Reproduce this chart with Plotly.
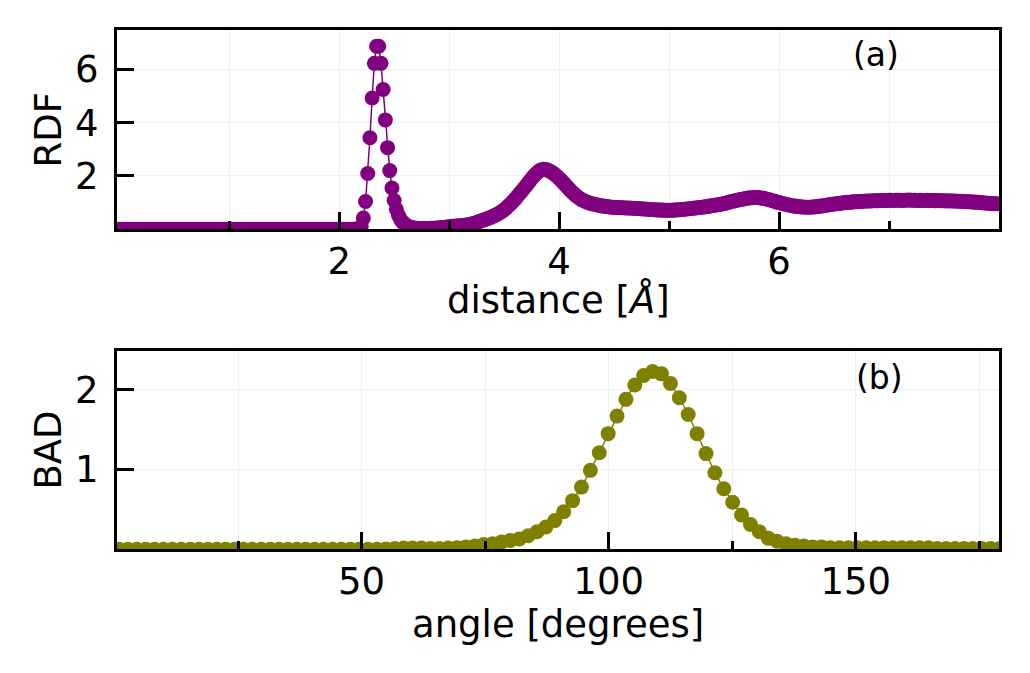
import plotly.graph_objects as go

# ---------------- data ----------------
# RDF sampled every rdf_dr Angstrom starting at 0
rdf_dr = 0.02
rdf_values = [
    0, 0, 0, 0, 0, 0, 0, 0, 0, 0,
    0, 0, 0, 0, 0, 0, 0, 0, 0, 0,
    0, 0, 0, 0, 0, 0, 0, 0, 0, 0,
    0, 0, 0, 0, 0, 0, 0, 0, 0, 0,
    0, 0, 0, 0, 0, 0, 0, 0, 0, 0,
    0, 0, 0, 0, 0, 0, 0, 0, 0, 0,
    0, 0, 0, 0, 0, 0, 0, 0, 0, 0,
    0, 0, 0, 0, 0, 0, 0, 0, 0, 0,
    0, 0, 0, 0, 0, 0, 0, 0, 0, 0,
    0, 0, 0, 0, 0, 0, 0, 0, 0, 0,
    0, 0, 0, 0, 0, 0, 0, 0, 0, 0,
    0.10,
    0.42, 1.04, 2.09, 3.43, 4.92, 6.22, 6.86, 6.86, 6.22, 5.24, 4.10, 3.06, 2.20, 1.55,
    1.08, 0.75, 0.52, 0.36, 0.25, 0.18, 0.13, 0.09, 0.07, 0.05,
    0.04, 0.03, 0.03, 0.03, 0.03, 0.03, 0.03, 0.04, 0.04, 0.05,
    0.05, 0.06, 0.07, 0.08, 0.09, 0.10, 0.11, 0.11, 0.12, 0.12,
    0.13, 0.14, 0.15, 0.16, 0.18, 0.20, 0.22, 0.24, 0.27, 0.30,
    0.33, 0.36, 0.39, 0.42, 0.45, 0.49, 0.53, 0.57, 0.62, 0.67,
    0.73, 0.80, 0.88, 0.96, 1.04, 1.13, 1.23, 1.33, 1.43, 1.53,
    1.63, 1.74, 1.85, 1.95, 2.04, 2.12, 2.19, 2.23, 2.25, 2.24,
    2.21, 2.17, 2.12, 2.06, 1.99, 1.91, 1.83, 1.74, 1.65, 1.56,
    1.47, 1.39, 1.31, 1.24, 1.18, 1.12, 1.08, 1.04, 1.01, 0.98,
    0.96, 0.94, 0.92, 0.90, 0.88, 0.87, 0.86, 0.85, 0.84, 0.83,
    0.83, 0.82, 0.82, 0.81, 0.81, 0.80, 0.80, 0.80, 0.79, 0.79,
    0.78, 0.78, 0.77, 0.76, 0.76, 0.75, 0.74, 0.74, 0.73, 0.73,
    0.72, 0.72, 0.72, 0.71, 0.71, 0.71, 0.71, 0.72, 0.72, 0.73,
    0.73, 0.74, 0.75, 0.76, 0.77, 0.78, 0.79, 0.80, 0.81, 0.82,
    0.83, 0.84, 0.85, 0.86, 0.88, 0.89, 0.90, 0.92, 0.93, 0.95,
    0.97, 0.99, 1.01, 1.03, 1.05, 1.07, 1.09, 1.11, 1.13, 1.14,
    1.16, 1.17, 1.18, 1.18, 1.19, 1.19, 1.18, 1.17, 1.16, 1.14,
    1.12, 1.10, 1.07, 1.05, 1.02, 1.00, 0.98, 0.96, 0.94, 0.92,
    0.90, 0.88, 0.87, 0.86, 0.85, 0.84, 0.84, 0.83, 0.83, 0.83,
    0.84, 0.84, 0.85, 0.86, 0.87, 0.88, 0.89, 0.91, 0.92, 0.94,
    0.95, 0.96, 0.97, 0.98, 0.99, 1.00, 1.01, 1.01, 1.02, 1.03,
    1.03, 1.04, 1.04, 1.05, 1.05, 1.06, 1.06, 1.06, 1.07, 1.07,
    1.07, 1.08, 1.08, 1.08, 1.08, 1.09, 1.09, 1.08, 1.09, 1.09,
    1.09, 1.08, 1.09, 1.09, 1.10, 1.09, 1.09, 1.09, 1.08, 1.09,
    1.08, 1.08, 1.09, 1.08, 1.08, 1.08, 1.07, 1.08, 1.07, 1.07,
    1.07, 1.06, 1.07, 1.06, 1.06, 1.06, 1.05, 1.05, 1.05, 1.04,
    1.04, 1.03, 1.03, 1.02, 1.02, 1.01, 1.01, 1.00, 0.99, 0.99,
    0.98, 0.97, 0.97, 0.96, 0.96,
]

# BAD sampled at bin centres, bad_start + k * bad_step degrees
bad_start = 0.9
bad_step = 1.8
bad_values = [
    0, 0, 0, 0, 0, 0, 0, 0, 0, 0,
    0, 0, 0, 0, 0, 0, 0, 0, 0, 0,
    0, 0, 0, 0, 0, 0, 0, 0, 0, 0,
    0.005, 0.01, 0.015, 0.015, 0.015, 0.01, 0.01, 0.015, 0.02, 0.03,
    0.04, 0.06, 0.07, 0.09, 0.11, 0.13, 0.17, 0.22, 0.28, 0.36,
    0.47, 0.61, 0.78, 0.99, 1.21, 1.45, 1.67, 1.88, 2.06, 2.18,
    2.23, 2.20, 2.08, 1.90, 1.69, 1.45, 1.20, 0.96, 0.76, 0.59,
    0.43, 0.31, 0.22, 0.14, 0.10, 0.07, 0.05, 0.04, 0.03, 0.03,
    0.02, 0.02, 0.02, 0.02, 0.02, 0.02, 0.02, 0.02, 0.02, 0.02,
    0.02, 0.02, 0.01, 0.01, 0.01, 0.01, 0.01, 0.01, 0.01, 0.01,
]

rdf_ticks = [2, 4, 6]
rdf_minor = [1, 3, 5, 7]
rdf_yticks = [2, 4, 6]
bad_ticks = [50, 100, 150]
bad_minor = [25, 75, 125, 175]
bad_yticks = [1, 2]

r = [round(i * rdf_dr, 2) for i in range(len(rdf_values))]
ang = [round(bad_start + k * bad_step, 1) for k in range(len(bad_values))]

PURPLE = "#800080"
OLIVE = "#808000"
FONT = "DejaVu Sans"
GRID = "#f0f0f0"
W, H = 1030, 673

fig = go.Figure()
fig.add_trace(go.Scatter(
    x=r, y=rdf_values, mode="lines+markers",
    line=dict(color=PURPLE, width=1.5),
    marker=dict(color=PURPLE, size=15),
    xaxis="x", yaxis="y", showlegend=False))
fig.add_trace(go.Scatter(
    x=ang, y=bad_values, mode="lines+markers",
    line=dict(color=OLIVE, width=1.5),
    marker=dict(color=OLIVE, size=15),
    xaxis="x2", yaxis="y2", showlegend=False))

tickfont = dict(family=FONT, size=37, color="black")
titlefont = dict(family=FONT, size=37, color="black")


def ax(**kw):
    d = dict(showline=True, linecolor="black", linewidth=3, mirror=True,
             ticks="inside", tickcolor="black", tickwidth=3, ticklen=17,
             showgrid=True, gridcolor=GRID, gridwidth=1.2, zeroline=False,
             tickfont=tickfont, tickmode="array")
    d.update(kw)
    return d


def minor(vals):
    return dict(tickmode="array", tickvals=vals, ticks="inside", ticklen=8,
                tickwidth=2.5, tickcolor="black", showgrid=True,
                gridcolor=GRID, gridwidth=1.2)


xd = [117 / W, 999 / W]
xmid = (xd[0] + xd[1]) / 2
fig.update_layout(
    width=W, height=H,
    margin=dict(l=0, r=0, t=0, b=0),
    paper_bgcolor="white", plot_bgcolor="white",
    xaxis=ax(domain=xd, range=[-0.02, 8.0], tickvals=rdf_ticks,
             minor=minor(rdf_minor), anchor="y", ticklabelstandoff=-3),
    yaxis=ax(domain=[1 - 229.3 / H, 1 - 30 / H], range=[0, 7.47],
             tickvals=rdf_yticks, anchor="x", ticklabelstandoff=8,
             title=dict(text="RDF", font=titlefont, standoff=3)),
    xaxis2=ax(domain=xd, range=[0.5, 179.0], tickvals=bad_ticks,
              minor=minor(bad_minor), anchor="y2", ticklabelstandoff=-3),
    yaxis2=ax(domain=[1 - 549.3 / H, 1 - 350.7 / H], range=[0, 2.49],
              tickvals=bad_yticks, anchor="x2", ticklabelstandoff=8,
              title=dict(text="BAD", font=titlefont, standoff=3)),
    annotations=[
        dict(text="distance [<i>Å</i>]", xref="paper", yref="paper",
             x=xmid, y=1 - 300 / H, xanchor="center", yanchor="middle",
             showarrow=False, font=titlefont),
        dict(text="angle [degrees]", xref="paper", yref="paper",
             x=xmid, y=1 - 624 / H, xanchor="center", yanchor="middle",
             showarrow=False, font=titlefont),
        dict(text="(a)", xref="paper", yref="paper", x=876 / W, y=1 - 54 / H,
             xanchor="center", yanchor="middle", showarrow=False,
             font=dict(family=FONT, size=33, color="black")),
        dict(text="(b)", xref="paper", yref="paper", x=879 / W, y=1 - 377 / H,
             xanchor="center", yanchor="middle", showarrow=False,
             font=dict(family=FONT, size=33, color="black")),
    ],
)

fig.write_html("out.html")
